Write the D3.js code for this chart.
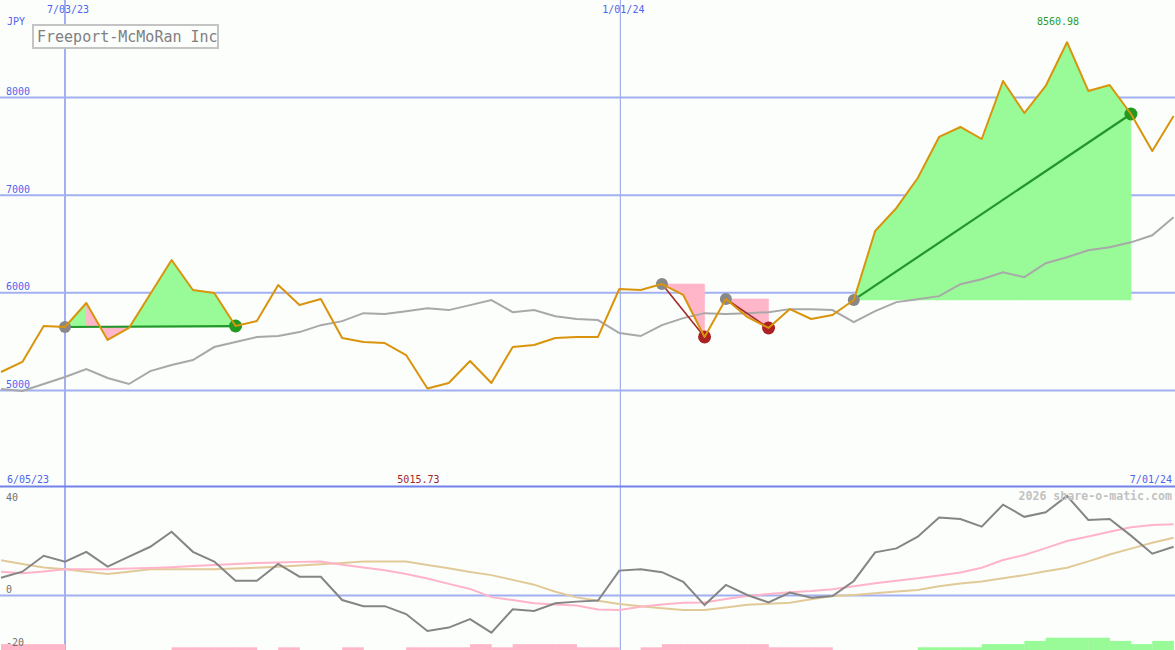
<!DOCTYPE html>
<html><head><meta charset="utf-8">
<script src="https://cdn.jsdelivr.net/npm/d3@7"></script>
<style>
html,body{margin:0;padding:0;background:#fcfefc;}
svg{display:block;}
</style></head><body>
<svg id="c" width="1175" height="650"></svg>
<script>
// ---- data (weekly closes, JPY) ----
const price = [5184,5287,5655,5645,5891,5512,5635,5983,6331,6024,5993,5655,5707,6075,5870,5932,
  5532,5492,5481,5358,5015.73,5072,5297,5072,5440,5461,5532,5543,5543,6034,6024,6085,5973,5543,
  5932,5748,5635,5829,5727,5768,5922,6628,6864,7171,7591,7693,7570,8164,7836,8113,8560.98,8062,
  8123,7826,7447,7806];
const movingAvg = [5010,4990,5061,5133,5215,5123,5061,5194,5256,5307,5440,5491,5542,5552,5593,5664,
  5705,5787,5777,5807,5838,5818,5869,5920,5797,5818,5756,5726,5716,5583,5552,5664,5736,5787,
  5777,5787,5797,5828,5828,5818,5695,5807,5900,5930,5961,6083,6134,6206,6155,6298,6359,6431,
  6461,6512,6584,6768];
const momentum = [6.5,8.8,14.8,12.6,16.3,10.7,14.5,18.2,23.9,16.3,12.6,5.4,5.4,11.7,6.9,6.9,
  -1.9,-4.2,-4.2,-7.2,-13.6,-12.3,-9.1,-14.2,-5.4,-6.0,-3.1,-2.5,-2.1,9.2,9.7,8.6,5.0,-3.8,
  3.8,0,-2.8,0.9,-1.0,-0.4,5.3,16.1,17.6,22.0,29.2,28.7,25.8,34.1,29.5,31.2,37.4,28.3,28.7,
  22.4,15.6,18.2];
const signalPink = [8.8,8.2,8.9,9.7,9.7,9.7,10.0,10.2,10.5,10.9,11.3,11.7,12.1,12.3,12.5,12.6,
  11.4,10.4,9.3,7.9,6.2,4.2,2.3,-0.8,-1.9,-3.1,-3.6,-4.0,-5.5,-5.7,-4.4,-3.6,-2.9,-2.8,
  -1.5,-0.4,0.4,1.0,1.5,2.2,3.3,4.4,5.4,6.3,7.4,8.5,10.3,13.2,15.1,17.7,20.4,22.1,23.9,
  25.6,26.4,26.7];
const signalTan = [13.1,11.7,10.4,9.7,8.8,7.9,8.8,9.7,9.7,9.7,9.7,10.0,10.3,10.7,11.1,11.6,
  12.1,12.6,12.6,12.6,11.3,10.1,8.7,7.5,5.7,3.9,1.2,-0.9,-2.2,-3.4,-4.2,-5.0,-5.7,-5.7,
  -4.7,-3.7,-3.3,-2.9,-1.6,-0.4,0.0,0.7,1.3,1.9,3.3,4.3,5.1,6.3,7.5,9.0,10.3,12.7,15.3,
  17.5,19.7,21.6];
const histBars = [-2,-2,-2,0,0,0,0,0,-1,-1,-1,-1,0,-1,0,0,-1,0,0,-1,-1,-1,-2,-1,-2,-2,-2,-1,-1,0,
  -1,-2,-2,-2,-2,-2,-1,-1,-1,0,0,0,0,1,1,1,2,2,3,4,4,4,3,2,3,0];
const tradeEntry = [3, 31, 34, 40];
const tradeExit  = [11, 33, 36, 53];
const priceTicks = [5000, 6000, 7000, 8000];
const oscTicks = [40, 0, -20];
const topDateLabels = ["7/03/23", "1/01/24"];
const topDateIdx = [3, 29.05];
const bottomDateLabels = ["6/05/23", "7/01/24"];
const titleText = "Freeport-McMoRan Inc";
const currency = "JPY";
const watermark = "2026 share-o-matic.com";

// ---- drawing ----
const W = 1175, H = 650;
const FONT = "'DejaVu Sans Mono', monospace";
const svg = d3.select("#c");
svg.append("rect").attr("width", W).attr("height", H).attr("fill", "#fcfefc");

const x = d3.scaleLinear().domain([0, 55]).range([1.04, 1173.6]);
const yT = d3.scaleLinear().domain([5000, 8000]).range([390, 97]);
const yB = d3.scaleLinear().domain([0, 40]).range([595, 489]);
const yBar = d3.scaleLinear().domain([0, 4]).range([650.5, 637.7]);
const grid = "#a2b0f2", blue = "#5064ee";

// top horizontal gridlines via axis
const gTop = svg.append("g")
  .call(d3.axisRight(yT).tickValues(priceTicks).tickSize(W).tickFormat(d3.format("d")));
gTop.select(".domain").remove();
gTop.selectAll(".tick line").attr("stroke", grid).attr("stroke-width", 2);
gTop.selectAll(".tick text").attr("x", 6).attr("y", -6).attr("dy", "0.35em")
  .attr("fill", blue).attr("font-family", FONT).attr("font-size", 10).attr("text-anchor", "start");

// bottom zero line
const gBot = svg.append("g")
  .call(d3.axisRight(yB).tickValues([0]).tickSize(W).tickFormat(""));
gBot.select(".domain").remove();
gBot.selectAll(".tick line").attr("stroke", grid).attr("stroke-width", 2);

// vertical date lines
topDateIdx.forEach((d, i) => {
  svg.append("line").attr("x1", x(d)).attr("x2", x(d)).attr("y1", 0).attr("y2", H)
    .attr("stroke", grid).attr("stroke-width", i === 0 ? 2 : 1.2);
});

// separator
svg.append("line").attr("x1", 0).attr("x2", W).attr("y1", 486.5).attr("y2", 486.5)
  .attr("stroke", "#7282ea").attr("stroke-width", 2);

// trade fills (one path per colour per trade, no seams)
const green = "#98fb98", pink = "#ffb6c8";
tradeEntry.forEach((e, t) => {
  const ex = tradeExit[t], base = price[e];
  let dG = "", dP = "";
  for (let k = e; k < ex; k++) {
    const pts = [[x(k), yT(base)], [x(k), yT(price[k])], [x(k + 1), yT(price[k + 1])], [x(k + 1), yT(base)]];
    const seg = "M" + pts.join("L") + "Z";
    if (price[k + 1] >= base) dG += seg; else dP += seg;
  }
  if (dG) svg.append("path").attr("d", dG).attr("fill", green).attr("stroke", green).attr("stroke-width", 0.6);
  if (dP) svg.append("path").attr("d", dP).attr("fill", pink).attr("stroke", pink).attr("stroke-width", 0.6);
});

// moving average
const lineT = (arr) => d3.line().x((d, i) => x(i)).y(d => yT(d))(arr);
svg.append("path").attr("d", lineT(movingAvg)).attr("fill", "none")
  .attr("stroke", "#a8a8a8").attr("stroke-width", 2);

// trade lines
tradeEntry.forEach((e, t) => {
  const ex = tradeExit[t], win = price[ex] >= price[e];
  svg.append("line").attr("x1", x(e)).attr("y1", yT(price[e])).attr("x2", x(ex)).attr("y2", yT(price[ex]))
    .attr("stroke", win ? "#22962a" : "#a52828").attr("stroke-width", win ? 2.2 : 1.6);
});
// markers
tradeEntry.forEach((e, t) => {
  const ex = tradeExit[t], win = price[ex] >= price[e];
  svg.append("circle").attr("cx", x(e)).attr("cy", yT(price[e])).attr("r", 6).attr("fill", "#888888");
  svg.append("circle").attr("cx", x(ex)).attr("cy", yT(price[ex])).attr("r", 6.5)
    .attr("fill", win ? "#229a22" : "#aa2222");
});

// price line
svg.append("path").attr("d", lineT(price)).attr("fill", "none")
  .attr("stroke", "#d9940c").attr("stroke-width", 2).attr("stroke-linejoin", "round");

// min / max labels
const maxI = price.indexOf(d3.max(price)), minI = price.indexOf(d3.min(price));
svg.append("text").attr("x", x(maxI) - 9).attr("y", 21).attr("dy", "0.35em").attr("text-anchor", "middle")
  .attr("font-family", FONT).attr("font-size", 10).attr("fill", "#2a9a2a").text(d3.format(".2f")(price[maxI]));
svg.append("text").attr("x", x(minI) - 9).attr("y", 479).attr("dy", "0.35em").attr("text-anchor", "middle")
  .attr("font-family", FONT).attr("font-size", 10).attr("fill", "#a0262a").text(d3.format(".2f")(price[minI]));

// histogram bars
histBars.forEach((v, i) => {
  if (v === 0 || i >= 55) return;
  svg.append("rect").attr("x", x(i)).attr("width", x(i + 1) - x(i) + 0.3)
    .attr("y", yBar(Math.abs(v))).attr("height", yBar(0) - yBar(Math.abs(v)))
    .attr("fill", v > 0 ? green : pink);
});

// oscillator lines
const lineB = (arr) => d3.line().x((d, i) => x(i)).y(d => yB(d))(arr);
svg.append("path").attr("d", lineB(signalTan)).attr("fill", "none").attr("stroke", "#e2ca98").attr("stroke-width", 2);
svg.append("path").attr("d", lineB(signalPink)).attr("fill", "none").attr("stroke", "#ffb4c8").attr("stroke-width", 2);
svg.append("path").attr("d", lineB(momentum)).attr("fill", "none").attr("stroke", "#858585").attr("stroke-width", 2);

// oscillator labels
oscTicks.forEach(v => {
  const yy = Math.min(Math.max(yB(v) - 6, 497), 642);
  svg.append("text").attr("x", 6).attr("y", yy).attr("dy", "0.35em")
    .attr("font-family", FONT).attr("font-size", 10).attr("fill", "#707070").text(v);
});

// date labels
topDateIdx.forEach((d, i) => {
  svg.append("text").attr("x", x(d) + 3).attr("y", 9).attr("dy", "0.35em").attr("text-anchor", "middle")
    .attr("font-family", FONT).attr("font-size", 10).attr("fill", blue).text(topDateLabels[i]);
});
svg.append("text").attr("x", 7).attr("y", 479).attr("dy", "0.35em")
  .attr("font-family", FONT).attr("font-size", 10).attr("fill", blue).text(bottomDateLabels[0]);
svg.append("text").attr("x", 1172).attr("y", 479).attr("dy", "0.35em").attr("text-anchor", "end")
  .attr("font-family", FONT).attr("font-size", 10).attr("fill", blue).text(bottomDateLabels[1]);
svg.append("text").attr("x", 7).attr("y", 21).attr("dy", "0.35em")
  .attr("font-family", FONT).attr("font-size", 10).attr("fill", blue).text(currency);

// watermark
svg.append("text").attr("x", 1172).attr("y", 496).attr("dy", "0.35em").attr("text-anchor", "end")
  .attr("font-family", FONT).attr("font-size", 11.6).attr("font-weight", "bold").attr("fill", "#c2c2c2").text(watermark);

// title box
svg.append("rect").attr("x", 33).attr("y", 25).attr("width", 185).attr("height", 23)
  .attr("fill", "#fcfefc").attr("stroke", "#c4c4c4").attr("stroke-width", 2);
svg.append("text").attr("x", 37).attr("y", 36.5).attr("dy", "0.35em")
  .attr("font-family", FONT).attr("font-size", 15).attr("fill", "#808080").text(titleText);
</script>
</body></html>
